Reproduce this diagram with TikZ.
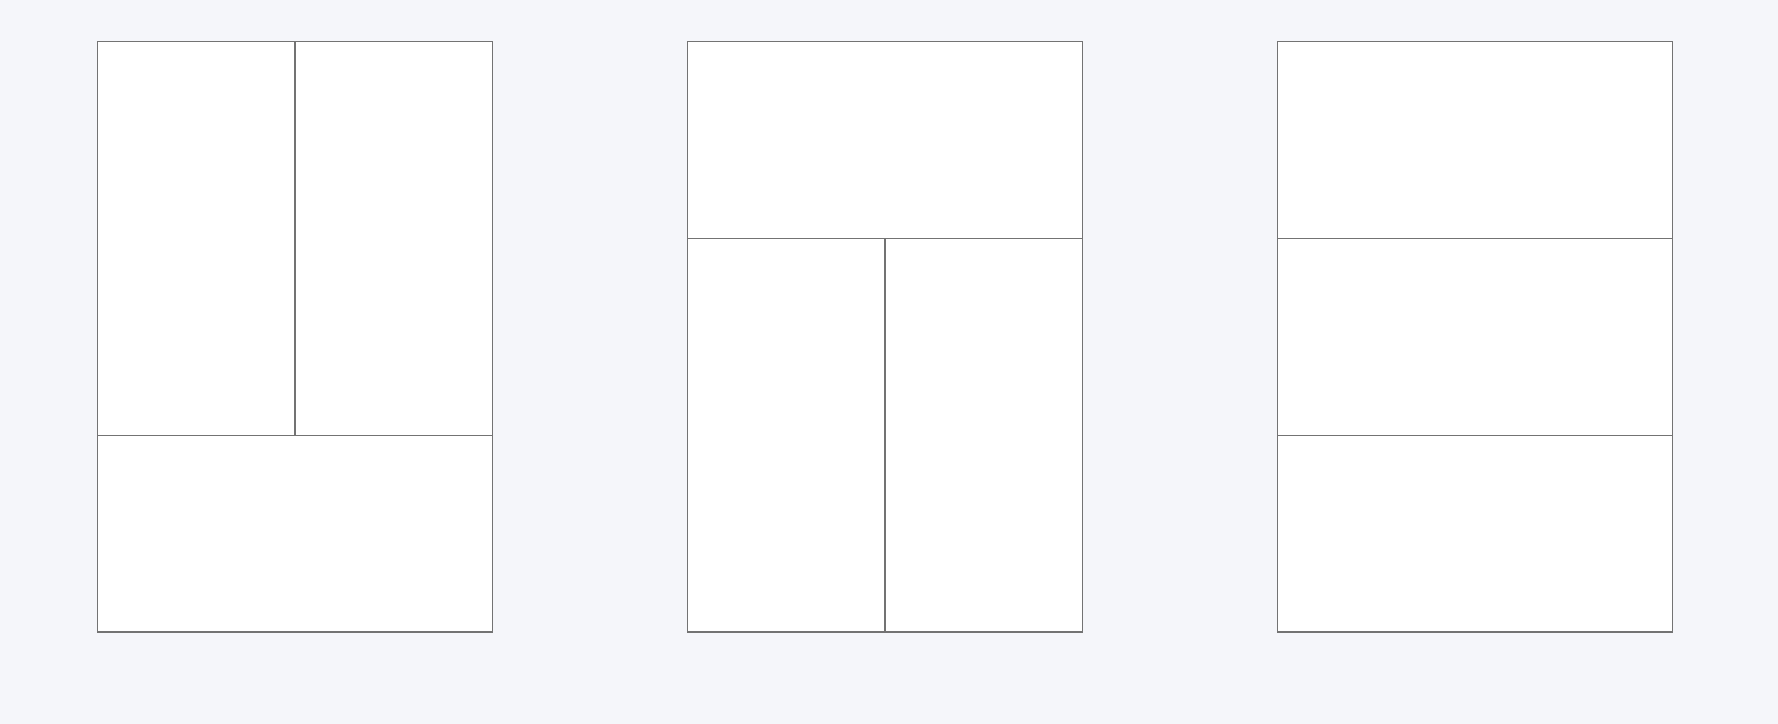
\documentclass[tikz,border=0pt]{standalone}
\begin{document}
\begin{tikzpicture}[x=0.01cm,y=-0.01cm,
  cell/.style={draw=black!55,fill=white,line width=0.45pt}]
\definecolor{bgc}{HTML}{F5F6FA}
\fill[bgc] (0,0) rectangle (1778,724);
\useasboundingbox (0,0) rectangle (1778,724);
% panel 1
\path[cell] (97.5,41.5) rectangle (295,435.3);
\path[cell] (295,41.5) rectangle (492.5,435.3);
\path[cell] (97.5,435.3) rectangle (492.5,632);
% panel 2
\path[cell] (687.5,41.5) rectangle (1082.5,238.7);
\path[cell] (687.5,238.7) rectangle (885,632);
\path[cell] (885,238.7) rectangle (1082.5,632);
% panel 3
\path[cell] (1277.5,41.5) rectangle (1672.5,238.7);
\path[cell] (1277.5,238.7) rectangle (1672.5,435.3);
\path[cell] (1277.5,435.3) rectangle (1672.5,632);
\end{tikzpicture}
\end{document}
